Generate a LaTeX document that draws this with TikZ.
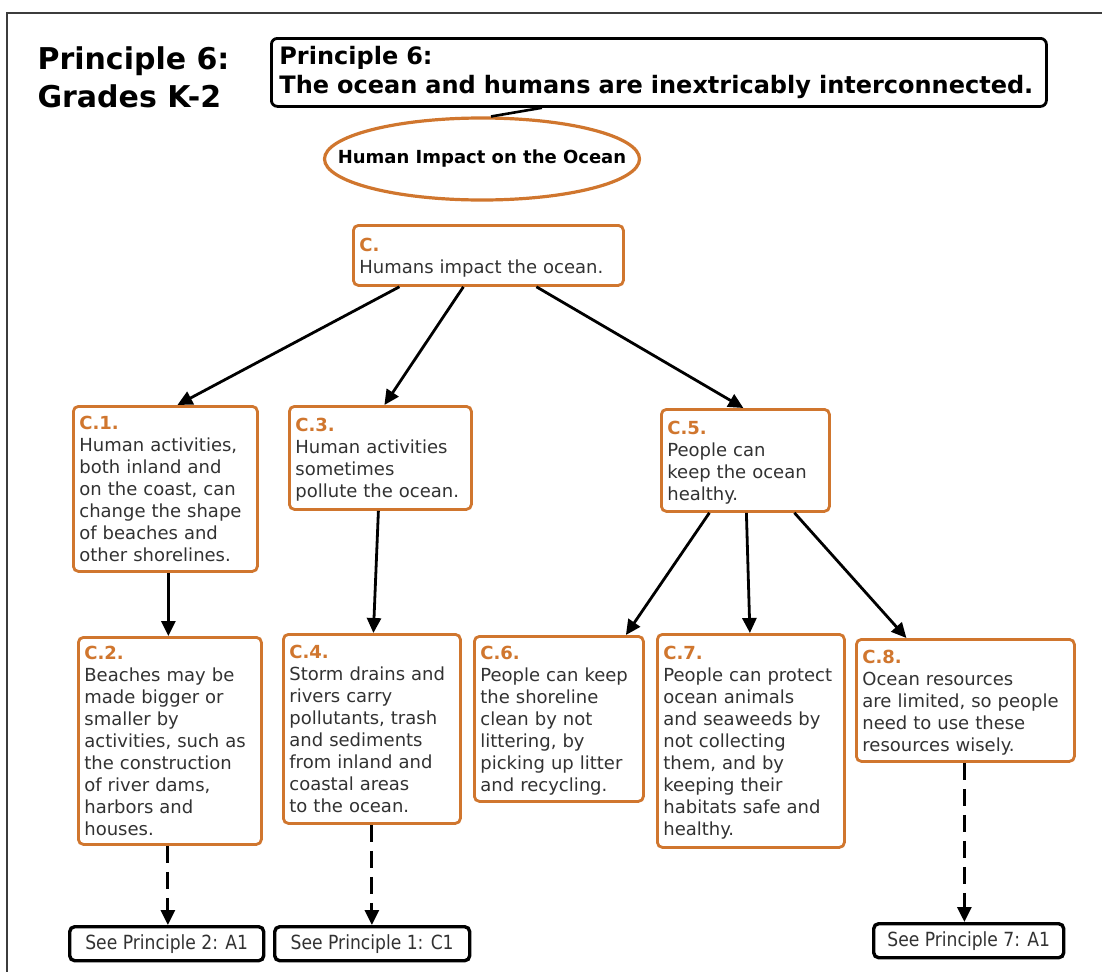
\documentclass[tikz,border=0pt]{standalone}
\usepackage{fontspec}
\setmainfont{DejaVu Sans}
\newfontfamily\narrowfont[FakeStretch=0.88]{DejaVu Sans}
\usetikzlibrary{shapes.geometric,arrows.meta}
\definecolor{ocorange}{RGB}{208,118,46}
\definecolor{bodytext}{RGB}{50,50,50}
\definecolor{framegray}{RGB}{60,60,60}
% orange item label, with a strut that fixes the first baseline
\newcommand\clabel[1]{\rule{0pt}{20pt}{\bfseries\color{ocorange}#1}}
% strut that keeps room under the last line
\newcommand\lastline{\rule[-6pt]{0pt}{6pt}}

\tikzset{
  conceptbox/.style={draw=ocorange, line width=2.8pt, rounded corners=5pt, fill=white,
    anchor=north west, inner xsep=6pt, inner ysep=2pt, align=left, text=bodytext,
    font=\fontsize{18}{22}\selectfont, text width=#1},
  refbox/.style={draw=black, line width=3.4pt, rounded corners=5pt, fill=white,
    anchor=north west, inner sep=0pt, text=bodytext,
    font=\narrowfont\fontsize{19.5}{22}\selectfont, minimum height=34pt, minimum width=#1},
  arr/.style={line width=2.8pt, -{Triangle[length=15pt,width=14pt]}},
  dasharr/.style={arr, line width=3pt, dash pattern=on 17pt off 9pt},
}

\begin{document}
\begin{tikzpicture}[x=1pt,y=-1pt]
  \path[use as bounding box] (0,0) rectangle (1102,972);
  % frame edges
  \draw[framegray, line width=2pt] (1102,13) -- (7,13) -- (7,972);

  % title at the left
  \node[anchor=base west, align=left, font=\bfseries\fontsize{30}{38}\selectfont]
    (title) at (34,107) {Principle 6:\\Grades K-2};

  % principle header
  \node[draw=black, line width=2.8pt, rounded corners=6pt, anchor=north west,
        minimum width=775pt, minimum height=68pt, inner xsep=8pt, inner ysep=4pt,
        align=left, text width=759pt, font=\bfseries\fontsize{24}{29}\selectfont]
    (head) at (270,37) {Principle 6:\\The ocean and humans are inextricably interconnected.};

  % topic ellipse
  \node[ellipse, draw=ocorange, line width=3.2pt, minimum width=315pt, minimum height=82pt,
        inner sep=0pt, font=\bfseries\fontsize{18}{20}\selectfont]
    (topic) at (482,159) {\makebox[0pt][c]{Human Impact on the Ocean}};
  \draw[line width=2.6pt] ([xshift=-117pt]head.south) -- (topic.78);

  % concept boxes
  \node[conceptbox=258pt, minimum height=60pt] (C) at (352,224)
    {\clabel{C.}\\Humans impact the ocean.\lastline};

  \node[conceptbox=172pt, minimum height=165pt] (C1) at (72,405)
    {\clabel{C.1.}\\Human activities,\\both inland and\\on the coast, can\\change the shape\\of beaches and\\other shorelines.\lastline};
  \node[conceptbox=170pt, minimum height=103pt] (C3) at (288,405)
    {\clabel{C.3.}\\Human activities\\sometimes\\pollute the ocean.\lastline};
  \node[conceptbox=156pt, minimum height=102pt] (C5) at (660,408)
    {\clabel{C.5.}\\People can\\keep the ocean\\healthy.\lastline};

  \node[conceptbox=171pt, minimum height=207pt] (C2) at (77,636)
    {\clabel{C.2.}\\Beaches may be\\made bigger or\\smaller by\\activities, such as\\the construction\\of river dams,\\harbors and\\houses.\lastline};
  \node[conceptbox=165pt, minimum height=189pt] (C4) at (282,633)
    {\clabel{C.4.}\\Storm drains and\\rivers carry\\pollutants, trash\\and sediments\\from inland and\\coastal areas\\to the ocean.\lastline};
  \node[conceptbox=157pt, minimum height=165pt] (C6) at (473,635)
    {\clabel{C.6.}\\People can keep\\the shoreline\\clean by not\\littering, by\\picking up litter\\and recycling.\lastline};
  \node[conceptbox=175pt, minimum height=213pt] (C7) at (656,633)
    {\clabel{C.7.}\\People can protect\\ocean animals\\and seaweeds by\\not collecting\\them, and by\\keeping their\\habitats safe and\\healthy.\lastline};
  \node[conceptbox=206pt, minimum height=122pt] (C8) at (855,638)
    {\clabel{C.8.}\\Ocean resources\\are limited, so people\\need to use these\\resources wisely.\lastline};

  % cross references
  \node[refbox=194pt] (S2) at (68,925) {See Principle 2: A1};
  \node[refbox=195pt] (S1) at (273,925) {See Principle 1: C1};
  \node[refbox=190pt] (S7) at (872,922) {See Principle 7: A1};

  % connectors
  \draw[arr] ([xshift=-89pt]C.south) -- ([xshift=12pt]C1.north);
  \draw[arr] ([xshift=-25pt]C.south) -- ([xshift=4pt]C3.north);
  \draw[arr] ([xshift=48pt]C.south) -- ([xshift=-2pt]C5.north);

  \draw[arr] ([xshift=3pt]C1.south) -- ([xshift=3pt]C1.south |- C2.north);
  \draw[arr] ([xshift=-2pt]C3.south) -- ([xshift=1.5pt]C4.north);
  \draw[arr] ([xshift=-36pt]C5.south) -- ([xshift=67pt]C6.north);
  \draw[arr] ([xshift=1pt]C5.south) -- ([xshift=-1pt]C7.north);
  \draw[arr] ([xshift=49pt]C5.south) -- ([xshift=-59pt]C8.north);

  \draw[dasharr] ([xshift=-2pt]C2.south) -- ([xshift=-2pt]C2.south |- S2.north);
  \draw[dasharr] (C4.south) -- (C4.south |- S1.north);
  \draw[dasharr] ([xshift=-1pt]C8.south) -- ([xshift=-1pt]C8.south |- S7.north);
\end{tikzpicture}
\end{document}
